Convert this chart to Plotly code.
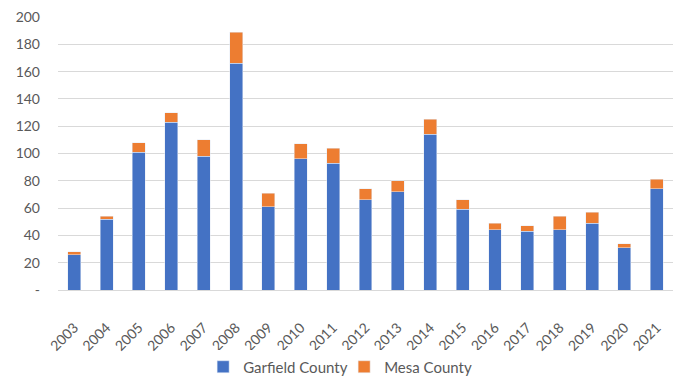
import plotly.graph_objects as go

years = [str(y) for y in range(2003, 2022)]
garfield = [26, 52, 101, 123, 98, 166, 61, 96, 93, 66, 72, 114, 59, 44, 43, 44, 49, 31, 74]
mesa = [2, 2, 7, 7, 12, 23, 10, 11, 11, 8, 8, 11, 7, 5, 4, 10, 8, 3, 7]

y_ticks = [0, 20, 40, 60, 80, 100, 120, 140, 160, 180, 200]
y_tick_text = ["-"] + [str(v) for v in y_ticks[1:]]

font_family = "Lato, Open Sans, sans-serif"
text_color = "#595959"

fig = go.Figure()
fig.add_trace(go.Bar(name="Garfield County", x=years, y=garfield, marker_color="#4472C4"))
fig.add_trace(go.Bar(name="Mesa County", x=years, y=mesa, marker_color="#ED7D31"))

fig.update_layout(
    barmode="stack",
    bargap=0.6,
    width=678,
    height=377,
    margin=dict(l=58, r=5, t=17, b=87, autoexpand=False),
    paper_bgcolor="white",
    plot_bgcolor="white",
    font=dict(family=font_family, size=14, color=text_color),
    showlegend=True,
    legend=dict(
        orientation="h",
        x=0.236,
        xanchor="left",
        y=-0.282,
        yanchor="middle",
        traceorder="normal",
        font=dict(size=15, color=text_color),
        itemwidth=30,
        entrywidth=96,
        entrywidthmode="pixels",
    ),
)

fig.update_xaxes(
    type="category",
    tickangle=-45,
    showline=True,
    linecolor="#d9d9d9",
    linewidth=1,
    showgrid=False,
    ticks="",
    ticklabelstandoff=23,
    automargin=False,
    tickfont=dict(size=14, color=text_color),
)
fig.update_yaxes(
    range=[0, 200],
    tickvals=y_ticks,
    ticktext=y_tick_text,
    showgrid=True,
    gridcolor="#d9d9d9",
    gridwidth=1,
    zeroline=False,
    showline=False,
    ticks="",
    ticklabelstandoff=17,
    automargin=False,
    tickfont=dict(size=14, color=text_color),
)

fig.write_html("out.html")
